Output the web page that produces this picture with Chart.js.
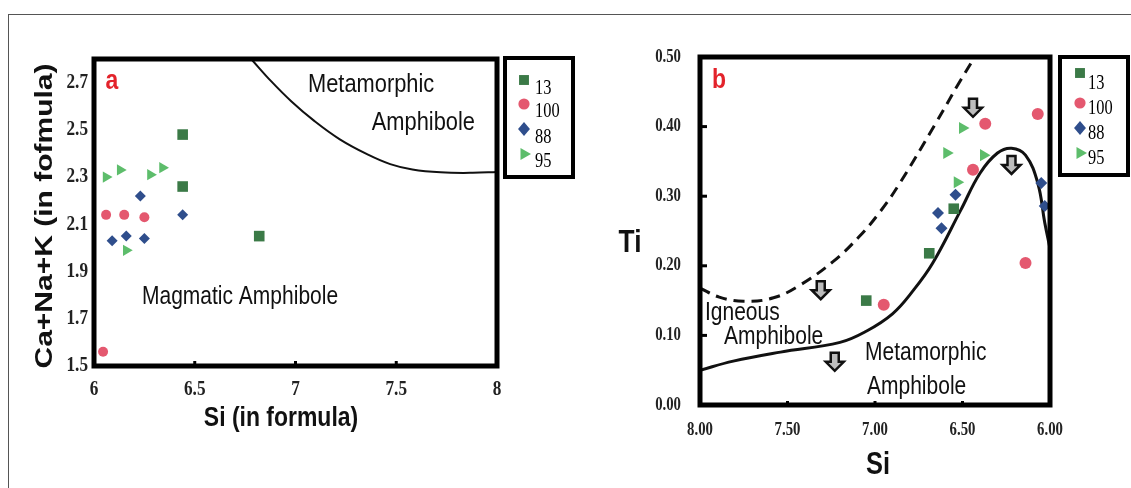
<!DOCTYPE html>
<html>
<head>
<meta charset="utf-8">
<script src="https://cdn.jsdelivr.net/npm/chart.js@4.4.1/dist/chart.umd.min.js"></script>
<style>
  html, body { margin: 0; padding: 0; background: #fff; overflow: hidden; }
  #frame { position: absolute; left: 8px; top: 14px; width: 1140px; height: 490px;
           border-left: 1px solid #555; border-top: 1px solid #555; }
  #ca { position: absolute; left: 0; top: 0; }
  #cb { position: absolute; left: 600px; top: 0; }
</style>
</head>
<body>
<div id="frame"></div>
<canvas id="ca" width="600" height="488"></canvas>
<canvas id="cb" width="531" height="488"></canvas>
<script>
// series shared by both panels
const seriesNames = ['13', '100', '88', '95'];
const colors = ['#3b7a47', '#e4586f', '#2f4e8c', '#5dbd6b'];
const styles = ['rect', 'circle', 'rectRot', 'triangle'];
const rotations = [0, 0, 0, 90];

// panel a : Si vs Ca+Na+K
const a13 = [{x: 6.44, y: 2.48}, {x: 6.44, y: 2.26}, {x: 6.82, y: 2.05}];
const a100 = [{x: 6.045, y: 1.56}, {x: 6.06, y: 2.14}, {x: 6.15, y: 2.14}, {x: 6.25, y: 2.13}];
const a88 = [{x: 6.09, y: 2.03}, {x: 6.16, y: 2.05}, {x: 6.25, y: 2.04}, {x: 6.23, y: 2.22}, {x: 6.44, y: 2.14}];
const a95 = [{x: 6.06, y: 2.30}, {x: 6.13, y: 2.33}, {x: 6.28, y: 2.31}, {x: 6.34, y: 2.34}, {x: 6.16, y: 1.99}];
const aBoundary = [
  {x: 6.78, y: 2.80}, {x: 6.88, y: 2.705}, {x: 6.98, y: 2.62}, {x: 7.09, y: 2.54},
  {x: 7.22, y: 2.46}, {x: 7.36, y: 2.395}, {x: 7.47, y: 2.355}, {x: 7.58, y: 2.332},
  {x: 7.72, y: 2.32}, {x: 7.88, y: 2.318}, {x: 8.0, y: 2.322}
];
const xTicksA = [6, 6.5, 7, 7.5, 8];
const yTicksA = [1.5, 1.7, 1.9, 2.1, 2.3, 2.5, 2.7];

// panel b : Si vs Ti
const b13 = [{x: 6.55, y: 0.282}, {x: 6.69, y: 0.218}, {x: 7.05, y: 0.150}];
const b100 = [{x: 6.37, y: 0.404}, {x: 6.07, y: 0.418}, {x: 6.44, y: 0.338}, {x: 6.95, y: 0.144}, {x: 6.14, y: 0.204}];
const b88 = [{x: 6.54, y: 0.302}, {x: 6.64, y: 0.276}, {x: 6.62, y: 0.254}, {x: 6.05, y: 0.319}, {x: 6.03, y: 0.286}];
const b95 = [{x: 6.50, y: 0.398}, {x: 6.59, y: 0.362}, {x: 6.38, y: 0.359}, {x: 6.53, y: 0.320}];
const bIgneous = [
  {x: 8.0, y: 0.168}, {x: 7.89, y: 0.155}, {x: 7.75, y: 0.149}, {x: 7.58, y: 0.154},
  {x: 7.43, y: 0.172}, {x: 7.24, y: 0.206}, {x: 7.09, y: 0.242}, {x: 6.97, y: 0.278},
  {x: 6.86, y: 0.318}, {x: 6.65, y: 0.406}, {x: 6.51, y: 0.467}, {x: 6.38, y: 0.52}
];
const bMetamorphic = [
  {x: 8.0, y: 0.050}, {x: 7.81, y: 0.063}, {x: 7.54, y: 0.076}, {x: 7.20, y: 0.090},
  {x: 7.05, y: 0.106}, {x: 6.90, y: 0.131}, {x: 6.78, y: 0.165}, {x: 6.67, y: 0.204},
  {x: 6.51, y: 0.280}, {x: 6.40, y: 0.333}, {x: 6.30, y: 0.362}, {x: 6.22, y: 0.369},
  {x: 6.14, y: 0.359}, {x: 6.07, y: 0.319}, {x: 6.03, y: 0.262}, {x: 6.0, y: 0.225}
];
const bArrows = [[7.31, 0.165], [7.23, 0.062], [6.44, 0.427], [6.22, 0.345]];
const xTicksB = [8, 7.5, 7, 6.5, 6];
const yTicksB = [0, 0.1, 0.2, 0.3, 0.4, 0.5];

const SANS = '"Liberation Sans", Arial, sans-serif';
const SERIF = '"Liberation Serif", "Times New Roman", serif';

// text in the figure is tall and narrow, so squeeze it sideways
function txt(ctx, s, x, y, font, opt) {
  opt = opt || {};
  ctx.save();
  ctx.translate(x, y);
  ctx.scale(opt.sx || 0.82, 1);
  if (opt.rot) ctx.rotate(opt.rot);
  ctx.font = font;
  ctx.fillStyle = opt.color || '#111';
  ctx.textAlign = opt.align || 'center';
  ctx.textBaseline = 'middle';
  ctx.fillText(s, 0, 0);
  ctx.restore();
}

function marker(ctx, style, x, y, r, color) {
  ctx.save();
  ctx.fillStyle = color;
  ctx.beginPath();
  if (style === 'rect') {
    const h = r * Math.SQRT1_2;
    ctx.rect(x - h, y - h, 2 * h, 2 * h);
  } else if (style === 'circle') {
    ctx.arc(x, y, r * 0.8, 0, Math.PI * 2);
  } else if (style === 'rectRot') {
    ctx.moveTo(x, y - r); ctx.lineTo(x + r * 0.85, y); ctx.lineTo(x, y + r); ctx.lineTo(x - r * 0.85, y);
    ctx.closePath();
  } else {
    ctx.moveTo(x + r, y); ctx.lineTo(x - r / 2, y - r * 0.866); ctx.lineTo(x - r / 2, y + r * 0.866);
    ctx.closePath();
  }
  ctx.fill();
  ctx.restore();
}

function legendBox(ctx, left, top, w, h, markerX, markerYs, textX, textYs) {
  ctx.save();
  ctx.strokeStyle = '#000';
  ctx.lineWidth = 4;
  ctx.strokeRect(left, top, w, h);
  ctx.restore();
  seriesNames.forEach((name, i) => {
    marker(ctx, styles[i], markerX, markerYs[i], 7, colors[i]);
    txt(ctx, name, textX, textYs[i], '21px ' + SERIF, {align: 'left', sx: 0.78, color: '#000'});
  });
}

function downArrow(ctx, cx, cy) {
  ctx.save();
  ctx.beginPath();
  ctx.moveTo(cx - 4, cy - 9); ctx.lineTo(cx + 4, cy - 9); ctx.lineTo(cx + 4, cy);
  ctx.lineTo(cx + 9, cy); ctx.lineTo(cx, cy + 9); ctx.lineTo(cx - 9, cy); ctx.lineTo(cx - 4, cy);
  ctx.closePath();
  ctx.fillStyle = '#bdbdbd';
  ctx.fill();
  ctx.lineWidth = 2.5;
  ctx.strokeStyle = '#111';
  ctx.stroke();
  ctx.restore();
}

function pointSets(list, sizes) {
  return list.map((d, i) => ({
    type: 'scatter',
    label: seriesNames[i],
    data: d,
    showLine: false,
    pointStyle: styles[i],
    pointRotation: rotations[i],
    pointRadius: sizes[i],
    pointBackgroundColor: colors[i],
    pointBorderWidth: 0,
    clip: false
  }));
}

function curve(label, data, width, dash) {
  return {
    type: 'scatter', label: label, data: data, showLine: true,
    pointRadius: 0, borderColor: '#111', borderWidth: width, borderDash: dash || [],
    tension: 0.4, fill: false
  };
}

function axis(min, max, ticks, reverse) {
  return {
    type: 'linear', min: min, max: max, reverse: !!reverse,
    grid: {display: false},
    border: {display: false},
    ticks: {display: false},
    afterBuildTicks: s => { s.ticks = ticks.map(v => ({value: v})); },
    afterFit: s => { if (s.isHorizontal()) s.height = 0; else s.width = 0; }
  };
}

function boxAndTicks(ctx, ca, x, y, xInner, yInner, xLen, yLen) {
  ctx.save();
  ctx.strokeStyle = '#000';
  ctx.lineWidth = 5;
  ctx.strokeRect(ca.left, ca.top, ca.right - ca.left, ca.bottom - ca.top);
  ctx.lineWidth = 3;
  xInner.forEach(v => {
    const px = x.getPixelForValue(v);
    ctx.beginPath(); ctx.moveTo(px, ca.bottom); ctx.lineTo(px, ca.bottom - xLen); ctx.stroke();
  });
  yInner.forEach(v => {
    const py = y.getPixelForValue(v);
    ctx.beginPath(); ctx.moveTo(ca.left, py); ctx.lineTo(ca.left + yLen, py); ctx.stroke();
  });
  ctx.restore();
}

const panelA = {
  id: 'panelA',
  afterDraw(chart) {
    const {ctx, chartArea: ca, scales: {x, y}} = chart;
    boxAndTicks(ctx, ca, x, y, xTicksA.slice(1, -1), [], 5, 0);
    xTicksA.forEach(v => txt(ctx, String(v), x.getPixelForValue(v), ca.bottom + 24, 'bold 21px ' + SERIF, {color: '#222'}));
    yTicksA.forEach(v => txt(ctx, v.toFixed(1), ca.left - 6, y.getPixelForValue(v), 'bold 21px ' + SERIF, {align: 'right', color: '#222'}));
    txt(ctx, 'Si (in formula)', 281, 418, 'bold 28px ' + SANS, {color: '#111'});
    txt(ctx, 'Ca+Na+K (in fofmula)', 45, 216, 'bold 30px ' + SANS, {rot: -Math.PI / 2, color: '#111'});
    txt(ctx, 'a', 112, 82, 'bold 27px ' + SANS, {color: '#e3232b', sx: 0.85});
    txt(ctx, 'Metamorphic', 308, 85, '26px ' + SANS, {align: 'left', sx: 0.84});
    txt(ctx, 'Amphibole', 475, 123, '26px ' + SANS, {align: 'right', sx: 0.84});
    txt(ctx, 'Magmatic Amphibole', 142, 297, '25px ' + SANS, {align: 'left', sx: 0.84});
    legendBox(ctx, 505, 58, 68, 119, 524, [80, 104, 129, 154], 535, [88, 111, 137, 161]);
  }
};

const panelB = {
  id: 'panelB',
  afterDraw(chart) {
    const {ctx, chartArea: ca, scales: {x, y}} = chart;
    bArrows.forEach(a => downArrow(ctx, x.getPixelForValue(a[0]), y.getPixelForValue(a[1])));
    boxAndTicks(ctx, ca, x, y, xTicksB.slice(1, -1), yTicksB.slice(1, -1), 4, 7);
    xTicksB.forEach(v => txt(ctx, v.toFixed(2), x.getPixelForValue(v), ca.bottom + 25, 'bold 18px ' + SERIF, {color: '#222'}));
    yTicksB.forEach(v => txt(ctx, v.toFixed(2), ca.left - 19, y.getPixelForValue(v), 'bold 18px ' + SERIF, {align: 'right', color: '#222'}));
    txt(ctx, 'Ti', 30, 243, 'bold 32px ' + SANS, {color: '#111'});
    txt(ctx, 'Si', 278, 465, 'bold 31px ' + SANS, {color: '#111'});
    txt(ctx, 'b', 119, 81, 'bold 27px ' + SANS, {color: '#e3232b', sx: 0.85});
    txt(ctx, 'Igneous', 105, 313, '25px ' + SANS, {align: 'left', sx: 0.84});
    txt(ctx, 'Amphibole', 124, 337, '25px ' + SANS, {align: 'left', sx: 0.84});
    txt(ctx, 'Metamorphic', 265, 353, '25px ' + SANS, {align: 'left', sx: 0.84});
    txt(ctx, 'Amphibole', 267, 387, '25px ' + SANS, {align: 'left', sx: 0.84});
    legendBox(ctx, 460, 57, 68, 118, 480, [73, 103, 128, 153], 488, [83, 108, 133, 158]);
  }
};

function baseOptions(pad, xs, ys) {
  return {
    responsive: false,
    animation: false,
    devicePixelRatio: 1,
    layout: {padding: pad},
    plugins: {legend: {display: false}, tooltip: {enabled: false}},
    scales: {x: xs, y: ys}
  };
}

new Chart(document.getElementById('ca'), {
  type: 'scatter',
  data: {
    datasets: pointSets([a13, a100, a88, a95], [7.5, 5, 5.5, 6.5])
      .concat([curve('boundary', aBoundary, 2)])
  },
  options: baseOptions({left: 94, top: 59, right: 103, bottom: 122},
    axis(6, 8, xTicksA), axis(1.5, 2.8, yTicksA)),
  plugins: [panelA]
});

new Chart(document.getElementById('cb'), {
  type: 'scatter',
  data: {
    datasets: pointSets([b13, b100, b88, b95], [7.5, 6, 6, 7])
      .concat([curve('igneous', bIgneous, 3, [11, 7]), curve('metamorphic', bMetamorphic, 3)])
  },
  options: baseOptions({left: 100, top: 57, right: 81, bottom: 83},
    axis(6, 8, xTicksB, true), axis(0, 0.5, yTicksB)),
  plugins: [panelB]
});
</script>
</body>
</html>
